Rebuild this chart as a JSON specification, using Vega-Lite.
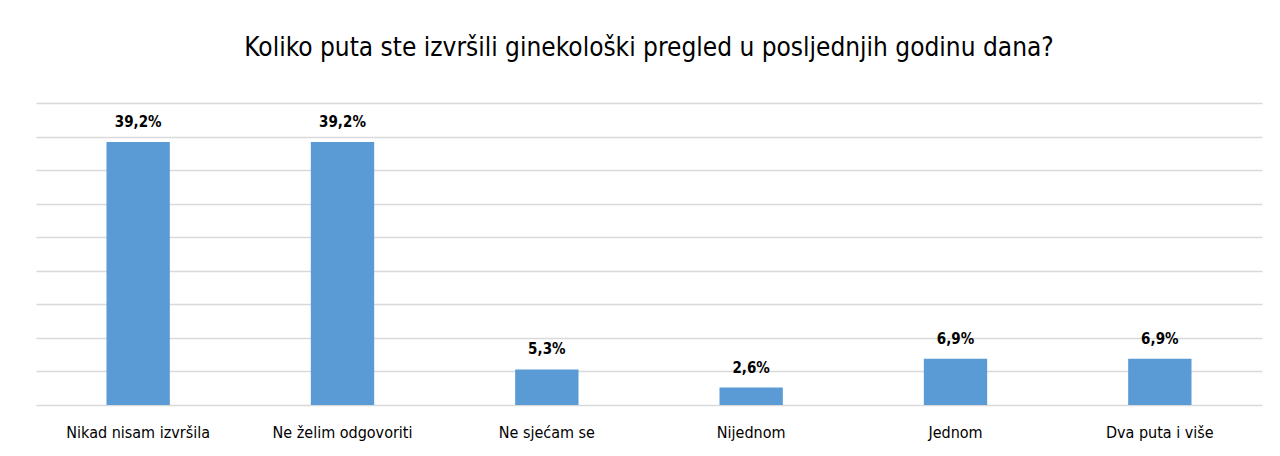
{
  "$schema": "https://vega.github.io/schema/vega-lite/v6.json",
  "autosize": "none",
  "width": 1226,
  "height": 302,
  "padding": {"left": 36, "top": 103, "right": 18, "bottom": 51},
  "background": "white",
  "config": {
    "view": {"stroke": null},
    "font": "DejaVu Sans Condensed",
    "locale": {"number": {"decimal": ",", "thousands": ".", "grouping": [3], "currency": ["", " €"]}}
  },
  "title": {
    "text": "Koliko puta ste izvršili ginekološki pregled u posljednjih godinu dana?",
    "font": "DejaVu Sans Condensed",
    "fontSize": 26,
    "fontWeight": "normal",
    "color": "#000000",
    "anchor": "middle",
    "offset": 42
  },
  "data": {
    "values": [
      {"odgovor": "Nikad nisam izvršila", "udio": 0.392},
      {"odgovor": "Ne želim odgovoriti", "udio": 0.392},
      {"odgovor": "Ne sjećam se", "udio": 0.053},
      {"odgovor": "Nijednom", "udio": 0.026},
      {"odgovor": "Jednom", "udio": 0.069},
      {"odgovor": "Dva puta i više", "udio": 0.069}
    ]
  },
  "encoding": {
    "x": {
      "field": "odgovor",
      "type": "nominal",
      "sort": null,
      "scale": {"paddingInner": 0.69, "paddingOuter": 0.345},
      "axis": {
        "title": null,
        "labelAngle": 0,
        "labelFontSize": 16,
        "labelColor": "#000000",
        "labelPadding": 19,
        "ticks": false,
        "domain": false
      }
    },
    "y": {
      "field": "udio",
      "type": "quantitative",
      "scale": {"domain": [0, 0.45], "nice": false},
      "axis": {
        "title": null,
        "labels": false,
        "ticks": false,
        "domain": false,
        "values": [0, 0.05, 0.1, 0.15, 0.2, 0.25, 0.3, 0.35, 0.4, 0.45],
        "grid": true,
        "gridColor": "#d9d9d9",
        "gridWidth": 1.5
      }
    }
  },
  "layer": [
    {"mark": {"type": "bar", "color": "#5B9BD5"}},
    {
      "mark": {"type": "text", "dy": -12, "baseline": "bottom", "fontSize": 15, "fontWeight": "bold", "color": "#000000"},
      "encoding": {"text": {"field": "udio", "type": "quantitative", "format": ".1%"}}
    }
  ]
}
